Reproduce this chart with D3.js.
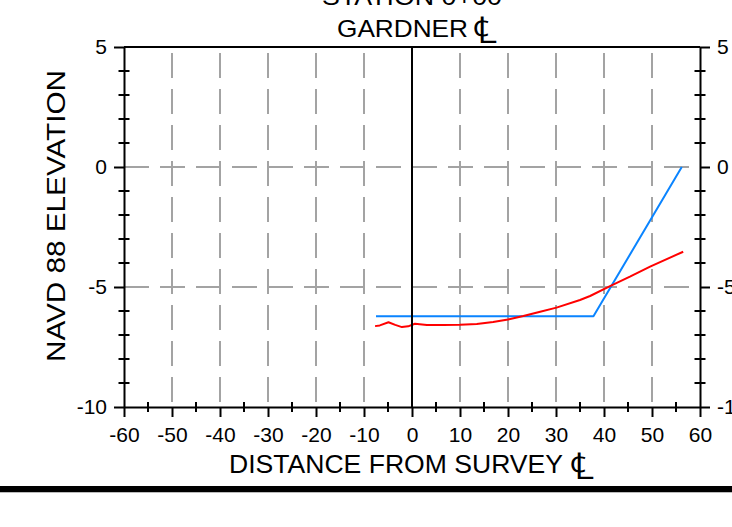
<!DOCTYPE html>
<html>
<head>
<meta charset="utf-8">
<script src="https://cdn.jsdelivr.net/npm/d3@7"></script>
<style>
  html, body { margin: 0; padding: 0; background: #fff; }
  svg { display: block; font-family: "Liberation Sans", Arial, Helvetica, sans-serif; }
</style>
</head>
<body>
<svg id="chart" width="732" height="527"></svg>
<script>
// Cross-section profile, station 0+00
const titleLines = ["STATION 0+00", "GARDNER"];
const xAxisTitle = "DISTANCE FROM SURVEY";
const centreLineMark = "\u2104";
const yAxisTitle = "NAVD 88 ELEVATION";

const xTicks = [-60, -50, -40, -30, -20, -10, 0, 10, 20, 30, 40, 50, 60];
const xMinorTicks = [-55, -45, -35, -25, -15, -5, 5, 15, 25, 35, 45, 55];
const yTicks = [5, 0, -5, -10];
const yMinorTicks = [4, 3, 2, 1, -1, -2, -3, -4, -6, -7, -8, -9];
const xGrid = [-50, -40, -30, -20, -10, 10, 20, 30, 40, 50];
const yGrid = [0, -5];

// Design section (blue)
const designDist = [-7.5, 37.8, 56.2];
const designElev = [-6.22, -6.22, 0];

// Surveyed ground (red)
const surveyDist = [-7.7, -6.7, -4.9, -3.5, -2.1, -0.8, 0.6, 3.1, 6.5, 10, 13.5, 16.9, 20, 23.2, 26.5, 30.1, 35, 37.1, 41.25, 45.4, 49.6, 56.5];
const surveyElev = [-6.63, -6.6, -6.47, -6.58, -6.67, -6.64, -6.53, -6.58, -6.58, -6.57, -6.54, -6.46, -6.35, -6.21, -6.04, -5.86, -5.54, -5.375, -4.96, -4.57, -4.15, -3.53];

const svg = d3.select("#chart");
const W = 732, H = 527;
const plot = { left: 124, right: 700, top: 47, bottom: 407 };

const x = d3.scaleLinear().domain([-60, 60]).range([plot.left, plot.right]);
const y = d3.scaleLinear().domain([-10, 5]).range([plot.bottom, plot.top]);

const gridColor = "#a3a3a3";
const plainNumber = d => String(d);   // ASCII hyphen for negatives

// grid
svg.append("g").selectAll("line").data(xGrid).join("line")
  .attr("x1", d => x(d)).attr("x2", d => x(d))
  .attr("y1", plot.top).attr("y2", plot.bottom)
  .attr("stroke", gridColor).attr("stroke-width", 2)
  .attr("stroke-dasharray", "25,11").attr("stroke-dashoffset", -6);

svg.append("g").selectAll("line").data(yGrid).join("line")
  .attr("x1", plot.left).attr("x2", plot.right)
  .attr("y1", d => y(d)).attr("y2", d => y(d))
  .attr("stroke", gridColor).attr("stroke-width", 2)
  .attr("stroke-dasharray", "25,11").attr("stroke-dashoffset", 0);

// data lines
const line = d3.line().x(d => x(d[0])).y(d => y(d[1]));
svg.append("path")
  .datum(designDist.map((d, i) => [d, designElev[i]]))
  .attr("d", line).attr("fill", "none")
  .attr("stroke", "#0a84ff").attr("stroke-width", 2).attr("stroke-linejoin", "round");
svg.append("path")
  .datum(surveyDist.map((d, i) => [d, surveyElev[i]]))
  .attr("d", line).attr("fill", "none")
  .attr("stroke", "#ff0000").attr("stroke-width", 2).attr("stroke-linejoin", "round");

// survey centre line
svg.append("line")
  .attr("x1", x(0)).attr("x2", x(0))
  .attr("y1", plot.top).attr("y2", plot.bottom)
  .attr("stroke", "#000").attr("stroke-width", 2);

// frame top
svg.append("line")
  .attr("x1", plot.left).attr("x2", plot.right)
  .attr("y1", plot.top).attr("y2", plot.top)
  .attr("stroke", "#000").attr("stroke-width", 2);

function styleAxis(g) {
  g.select(".domain").attr("stroke", "#000").attr("stroke-width", 2);
  g.selectAll(".tick line").attr("stroke", "#000").attr("stroke-width", 2);
  g.selectAll(".tick text").attr("fill", "#000")
    .style("font-family", '"Liberation Sans", Arial, sans-serif')
    .style("font-size", "21px");
}

const gx = svg.append("g").attr("transform", `translate(0,${plot.bottom})`)
  .call(d3.axisBottom(x).tickValues(xTicks).tickSize(10).tickSizeOuter(0).tickPadding(10).tickFormat(plainNumber));
styleAxis(gx);

const gl = svg.append("g").attr("transform", `translate(${plot.left},0)`)
  .call(d3.axisLeft(y).tickValues(yTicks).tickSize(10).tickSizeOuter(0).tickPadding(7).tickFormat(plainNumber));
styleAxis(gl);

const gr = svg.append("g").attr("transform", `translate(${plot.right},0)`)
  .call(d3.axisRight(y).tickValues(yTicks).tickSize(10).tickSizeOuter(0).tickPadding(7).tickFormat(plainNumber));
styleAxis(gr);

// minor ticks crossing the axes
svg.append("g").selectAll("line").data(xMinorTicks).join("line")
  .attr("x1", d => x(d)).attr("x2", d => x(d))
  .attr("y1", plot.bottom - 5).attr("y2", plot.bottom + 5)
  .attr("stroke", "#000").attr("stroke-width", 2);
[plot.left, plot.right].forEach(px => {
  svg.append("g").selectAll("line").data(yMinorTicks).join("line")
    .attr("x1", px - 5.5).attr("x2", px + 5.5)
    .attr("y1", d => y(d)).attr("y2", d => y(d))
    .attr("stroke", "#000").attr("stroke-width", 2);
});

// titles
const titleFont = '"Liberation Sans", Arial, sans-serif';

function titleWithMark(str, xPos, yPos, size, len, markX) {
  svg.append("text").text(str)
    .attr("x", xPos).attr("y", yPos)
    .attr("textLength", len).attr("lengthAdjust", "spacingAndGlyphs")
    .style("font-family", titleFont).style("font-size", size + "px").attr("fill", "#000");
  svg.append("text").text(centreLineMark)
    .attr("x", markX).attr("y", yPos + 6)
    .attr("textLength", 24).attr("lengthAdjust", "spacingAndGlyphs")
    .style("font-family", titleFont).style("font-size", "37px").attr("fill", "#000");
}

svg.append("text").text(titleLines[0])
  .attr("x", 322).attr("y", 5)
  .attr("textLength", 180).attr("lengthAdjust", "spacingAndGlyphs")
  .style("font-family", titleFont).style("font-size", "24px").attr("fill", "#000");
titleWithMark(titleLines[1], 337, 37, 24, 131, 473);
titleWithMark(xAxisTitle, 229, 473, 25, 334, 570);

svg.append("text").text(yAxisTitle)
  .attr("transform", "translate(65,362) rotate(-90)")
  .attr("x", 0).attr("y", 0)
  .attr("textLength", 292).attr("lengthAdjust", "spacingAndGlyphs")
  .style("font-family", titleFont).style("font-size", "25px").attr("fill", "#000");

// page rule below the chart
svg.append("rect").attr("x", 0).attr("y", 486).attr("width", W).attr("height", 6).attr("fill", "#000");
svg.append("line").attr("x1", 0).attr("x2", W).attr("y1", 492.5).attr("y2", 492.5)
  .attr("stroke", "#bbb").attr("stroke-width", 1);
</script>
</body>
</html>
